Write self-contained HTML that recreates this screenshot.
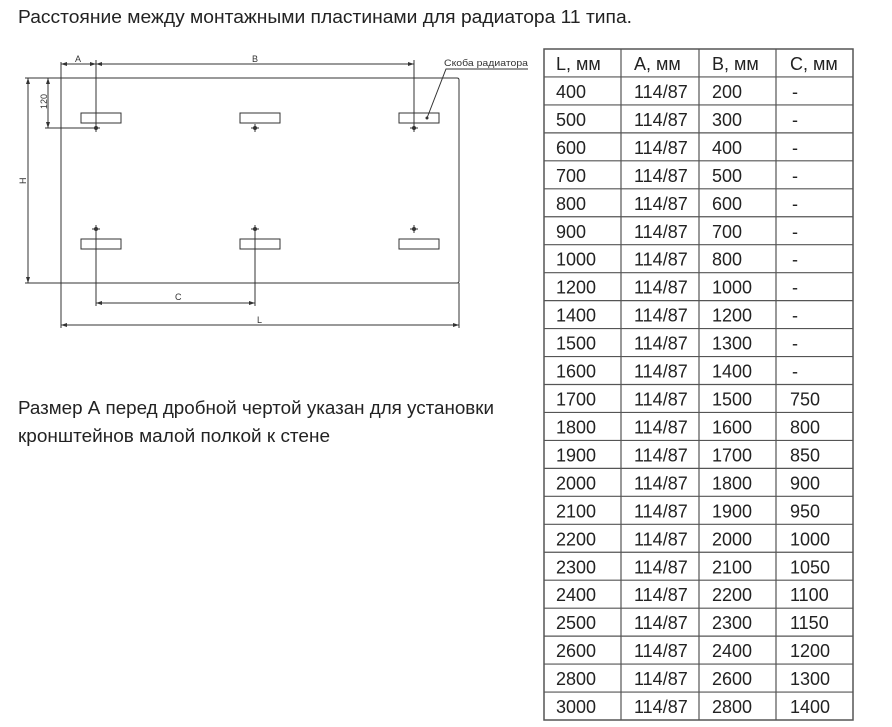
<!DOCTYPE html>
<html><head><meta charset="utf-8"><style>
html,body{margin:0;padding:0;background:#fff;width:892px;height:727px;overflow:hidden}
text{font-family:"Liberation Sans","DejaVu Sans",sans-serif}
</style></head><body>
<svg width="892" height="727" viewBox="0 0 892 727" xmlns="http://www.w3.org/2000/svg">
<text x="18" y="23" font-size="18" fill="#222" textLength="614" lengthAdjust="spacingAndGlyphs">Расстояние между монтажными пластинами для радиатора 11 типа.</text>
<g stroke="#333" stroke-width="1" fill="none">
<path d="M61 78 H457 Q459 78 459 80 V281 Q459 283 457 283 H61"/>
<path d="M61 62 V328"/>
<path d="M459 283 V328"/>
<path d="M61 325 H459"/>
<path d="M25 78 H61 M25 283 H61"/>
<path d="M28 78 V283"/>
<path d="M48 78 V128 M45 128 H96"/>
<path d="M61 64 H96 M96 64 H414"/>
<path d="M96 60 V128 M414 60 V128"/>
<path d="M96 229 V306 M255 229 V306 M96 303 H255"/>
<rect x="81" y="113" width="40" height="10"/>
<rect x="240" y="113" width="40" height="10"/>
<rect x="399" y="113" width="40" height="10"/>
<rect x="81" y="239" width="40" height="10"/>
<rect x="240" y="239" width="40" height="10"/>
<rect x="399" y="239" width="40" height="10"/>
<path d="M427 118 L446 69 H528"/>
<path d="M92 128h8M96 124v8M251 128h8M255 124v8M410 128h8M414 124v8M92 229h8M96 225v8M251 229h8M255 225v8M410 229h8M414 225v8"/>
</g>
<g fill="#333">
<circle cx="96" cy="128" r="2"/><circle cx="255" cy="128" r="2"/><circle cx="414" cy="128" r="2"/>
<circle cx="96" cy="229" r="2"/><circle cx="255" cy="229" r="2"/><circle cx="414" cy="229" r="2"/>
<circle cx="427" cy="118" r="1.5"/>
<path d="M61 64l6-2v4z M96 64l-6-2v4z M96 64l6-2v4z M414 64l-6-2v4z"/>
<path d="M28 78l-2 6h4z M28 283l-2-6h4z M48 78l-2 6h4z M48 128l-2-6h4z"/>
<path d="M96 303l6-2v4z M255 303l-6-2v4z M61 325l6-2v4z M459 325l-6-2v4z"/>
</g>
<g font-size="9" fill="#333">
<text x="75" y="62">A</text>
<text x="252" y="62">B</text>
<text x="175" y="300">C</text>
<text x="257" y="323">L</text>
<text x="444" y="66" font-size="9.5" textLength="84" lengthAdjust="spacingAndGlyphs">Скоба радиатора</text>
<text transform="translate(26,184) rotate(-90)">H</text>
<text transform="translate(47,109) rotate(-90)">120</text>
</g>
<text x="18" y="414" font-size="18" fill="#222" textLength="476" lengthAdjust="spacingAndGlyphs">Размер А перед дробной чертой указан для установки</text>
<text x="18" y="442" font-size="18" fill="#222" textLength="312" lengthAdjust="spacingAndGlyphs">кронштейнов малой полкой к стене</text>
<g id="tbl"></g>
</svg>
<script>
(function(){
var rows=[["L, мм","A, мм","B, мм","C, мм"],
["400","114/87","200","-"],["500","114/87","300","-"],["600","114/87","400","-"],["700","114/87","500","-"],
["800","114/87","600","-"],["900","114/87","700","-"],["1000","114/87","800","-"],["1200","114/87","1000","-"],
["1400","114/87","1200","-"],["1500","114/87","1300","-"],["1600","114/87","1400","-"],["1700","114/87","1500","750"],
["1800","114/87","1600","800"],["1900","114/87","1700","850"],["2000","114/87","1800","900"],["2100","114/87","1900","950"],
["2200","114/87","2000","1000"],["2300","114/87","2100","1050"],["2400","114/87","2200","1100"],["2500","114/87","2300","1150"],
["2600","114/87","2400","1200"],["2800","114/87","2600","1300"],["3000","114/87","2800","1400"]];
var xs=[544,621,699,776,853],tx=[556,634,712,790],y0=49,h=671/24,s="";
s+='<rect x="544" y="49" width="309" height="671" fill="none" stroke="#555" stroke-width="1.5"/>';
for(var i=1;i<24;i++){var y=y0+i*h;s+='<line x1="544" x2="853" y1="'+y+'" y2="'+y+'" stroke="#555" stroke-width="1.2"/>';}
for(var j=1;j<4;j++)s+='<line x1="'+xs[j]+'" x2="'+xs[j]+'" y1="49" y2="720" stroke="#555" stroke-width="1.2"/>';
for(var i=0;i<24;i++)for(var j=0;j<4;j++){var t=rows[i][j];s+='<text x="'+(t=="-"?tx[j]+2:tx[j])+'" y="'+(y0+i*h+21)+'" font-size="18" fill="#222">'+t+'</text>';}
document.getElementById("tbl").innerHTML=s;
})();
</script>
</body></html>
